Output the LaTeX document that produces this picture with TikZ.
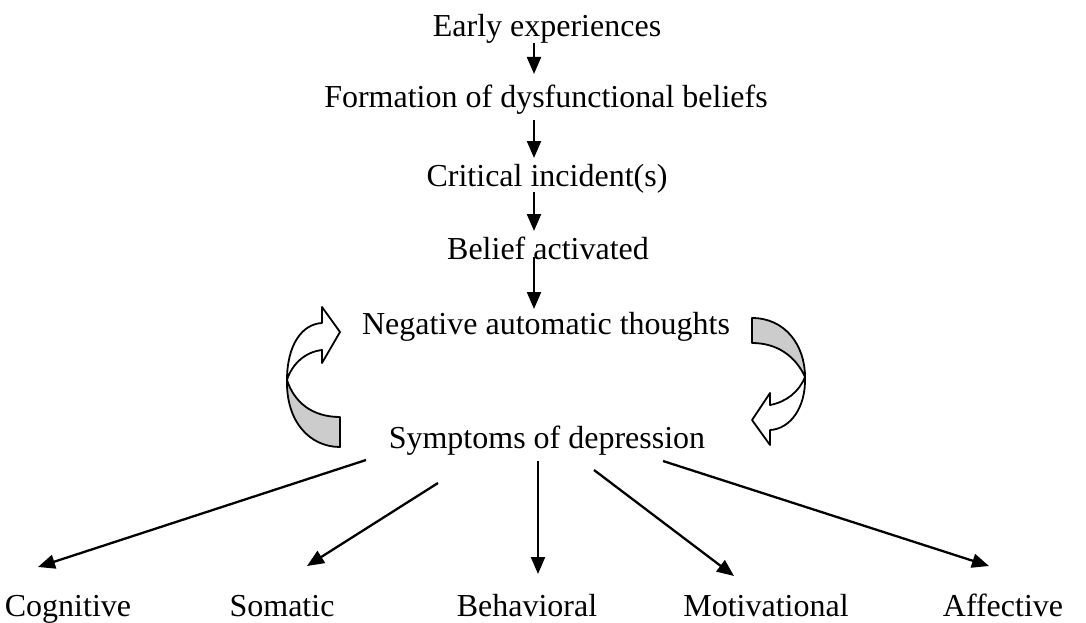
\documentclass[tikz,border=0pt]{standalone}
\usepackage{fontspec}
\setmainfont{Liberation Serif}
\usetikzlibrary{arrows.meta}
\begin{document}
\begin{tikzpicture}[x=1pt,y=-1pt,
  lbl/.style={anchor=base,inner sep=0pt,font=\fontsize{32}{38}\selectfont},
  conn/.style={line width=2.3pt,-{Triangle[length=17pt,width=14pt]}},
  band/.style={line width=1.8pt,line join=round}]
\useasboundingbox (0,0) rectangle (1086,623);
% text nodes
\node[lbl] (early) at (547,37) {Early experiences};
\node[lbl] (form) at (546,107) {Formation of dysfunctional beliefs};
\node[lbl] (crit) at (547,186) {Critical incident(s)};
\node[lbl] (belief) at (548,259) {Belief activated};
\node[lbl] (neg) at (546,334) {Negative automatic thoughts};
\node[lbl] (symp) at (547,448) {Symptoms of depression};
\node[lbl] (cog) at (68,616) {Cognitive};
\node[lbl] (som) at (282,616) {Somatic};
\node[lbl] (beh) at (527,616) {Behavioral};
\node[lbl] (mot) at (766,616) {Motivational};
\node[lbl] (aff) at (1003,616) {Affective};
% connector end points
\coordinate (a1s) at (534,43);  \coordinate (a1e) at (534,74);
\coordinate (a2s) at (534,120); \coordinate (a2e) at (534,158);
\coordinate (a3s) at (534,192); \coordinate (a3e) at (534,231);
\coordinate (a4s) at (534,257); \coordinate (a4e) at (534,309);
\coordinate (c1s) at (366,460); \coordinate (c1e) at (38,567);
\coordinate (c2s) at (438,483); \coordinate (c2e) at (307,566);
\coordinate (c3s) at (538,461); \coordinate (c3e) at (538,574);
\coordinate (c4s) at (594,470); \coordinate (c4e) at (734,576);
\coordinate (c5s) at (663,461); \coordinate (c5e) at (989,566);
\draw[conn] (a1s) -- (a1e);
\draw[conn] (a2s) -- (a2e);
\draw[conn] (a3s) -- (a3e);
\draw[conn] (a4s) -- (a4e);
\draw[conn] (c1s) -- (c1e);
\draw[conn] (c2s) -- (c2e);
\draw[conn] (c3s) -- (c3e);
\draw[conn] (c4s) -- (c4e);
\draw[conn] (c5s) -- (c5e);
% left curved arrow
\draw[band,fill=black!20] (287,380) .. controls (286,422) and (310,447) .. (340,447)
  -- (340,417) .. controls (312,417) and (294,402) .. (287,380) -- cycle;
\draw[band,fill=white] (287,380) .. controls (287,345) and (302,324) .. (322,323)
  -- (322,307) -- (340,332) -- (322,363) -- (322,350)
  .. controls (305,352) and (292,364) .. (287,380) -- cycle;
% right curved arrow
\draw[band,fill=black!20] (752,318) .. controls (785,318) and (805,345) .. (805,377)
  .. controls (796,357) and (778,343) .. (752,343) -- cycle;
\draw[band,fill=white] (805,377) .. controls (806,408) and (790,429) .. (770,430)
  -- (770,445) -- (752,420) -- (770,393) -- (770,405)
  .. controls (786,402) and (799,392) .. (805,377) -- cycle;
\end{tikzpicture}
\end{document}
